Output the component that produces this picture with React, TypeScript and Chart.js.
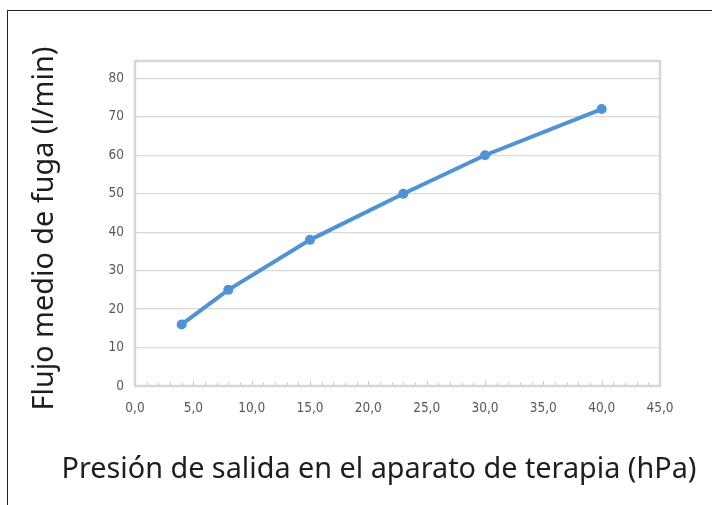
import React, { useEffect, useRef } from "react";
import { Chart, registerables } from "chart.js";

Chart.register(...registerables);

// ---- data ----
const pressureHPa = [4, 8, 15, 23, 30, 40];
const leakFlowLmin = [16, 25, 38, 50, 60, 72];
const xMajorTicks = [0, 5, 10, 15, 20, 25, 30, 35, 40, 45];
const xMinorStep = 1;
const yTicks = [0, 10, 20, 30, 40, 50, 60, 70, 80];
const xMin = 0;
const xMax = 45;
const yMin = 0;
const yMax = 84.5;
const xTitle = "Presión de salida en el aparato de terapia (hPa)";
const yTitle = "Flujo medio de fuga (l/min)";

const TICK_FONT = "'Liberation Sans Narrow', 'DejaVu Sans Condensed', sans-serif";
const TITLE_FONT = "'Noto Sans', 'Open Sans', sans-serif";
const LINE_COLOR = "#4e93d3";

const framePlugin = {
  id: "frameAndMinorTicks",
  beforeDatasetsDraw(chart: any) {
    const { ctx, chartArea: a, scales } = chart;
    const x = scales.x;
    ctx.save();
    // minor / major tick marks pointing into the plot
    ctx.strokeStyle = "#c4c4c4";
    ctx.lineWidth = 1;
    for (let v = xMin; v <= xMax + 1e-9; v += xMinorStep) {
      const px = Math.round(x.getPixelForValue(v)) + 0.5;
      const len = Math.abs(v % 5) < 1e-9 ? 5 : 3.5;
      ctx.beginPath();
      ctx.moveTo(px, a.bottom);
      ctx.lineTo(px, a.bottom - len);
      ctx.stroke();
    }
    // plot area border
    ctx.strokeStyle = "#d6d6d6";
    ctx.lineWidth = 2.5;
    ctx.strokeRect(a.left, a.top, a.right - a.left, a.bottom - a.top);
    ctx.restore();
  },
};

const titlesPlugin = {
  id: "axisTitles",
  afterDraw(chart: any) {
    const { ctx } = chart;
    ctx.save();
    ctx.fillStyle = "#1e1e1e";
    ctx.font = `28.8px ${TITLE_FONT}`;
    ctx.textBaseline = "alphabetic";
    ctx.textAlign = "center";
    ctx.fillText(xTitle, 379, 478);
    ctx.translate(53, 228.5);
    ctx.rotate(-Math.PI / 2);
    ctx.fillText(yTitle, 0, 0);
    ctx.restore();
  },
};

export default function App() {
  const ref = useRef<HTMLCanvasElement | null>(null);

  useEffect(() => {
    if (!ref.current) return;
    const chart = new Chart(ref.current, {
      type: "line",
      data: {
        datasets: [
          {
            data: pressureHPa.map((p, i) => ({ x: p, y: leakFlowLmin[i] })),
            borderColor: LINE_COLOR,
            backgroundColor: LINE_COLOR,
            borderWidth: 4,
            pointRadius: 5,
            pointHoverRadius: 5,
            pointBorderWidth: 0,
            tension: 0,
            fill: false,
          },
        ],
      },
      options: {
        animation: false,
        responsive: false,
        events: [],
        layout: { padding: { left: 0, top: 61, right: 52, bottom: 0 } },
        plugins: {
          legend: { display: false },
          tooltip: { enabled: false },
          title: { display: false },
        },
        scales: {
          x: {
            type: "linear",
            min: xMin,
            max: xMax,
            afterBuildTicks: (s: any) => {
              s.ticks = xMajorTicks.map((v) => ({ value: v }));
            },
            afterFit: (s: any) => {
              s.height = 505 - 386;
            },
            grid: { display: false, drawTicks: false },
            border: { display: false },
            ticks: {
              padding: 14,
              autoSkip: false,
              maxRotation: 0,
              color: "#595959",
              font: { family: TICK_FONT, size: 13.5 },
              callback: (v: any) => Number(v).toFixed(1).replace(".", ","),
            },
          },
          y: {
            type: "linear",
            min: yMin,
            max: yMax,
            afterBuildTicks: (s: any) => {
              s.ticks = yTicks.map((v) => ({ value: v }));
            },
            afterFit: (s: any) => {
              s.width = 135;
            },
            grid: { color: "#d9d9d9", lineWidth: 1.2, drawTicks: false },
            border: { display: false },
            ticks: {
              padding: 11,
              color: "#595959",
              font: { family: TICK_FONT, size: 13.5 },
              callback: (v: any) => String(v),
            },
          },
        },
      },
      plugins: [framePlugin, titlesPlugin],
    });
    return () => chart.destroy();
  }, []);

  return (
    <div
      style={{
        position: "fixed",
        left: 0,
        top: 0,
        width: 712,
        height: 505,
        background: "#ffffff",
        overflow: "hidden",
      }}
    >
      <canvas
        ref={ref}
        width={712}
        height={505}
        style={{ position: "absolute", left: 0, top: 0, width: 712, height: 505 }}
      />
      <div
        style={{
          position: "absolute",
          left: 7,
          top: 10,
          width: 800,
          height: 600,
          borderTop: "1px solid #222",
          borderLeft: "1px solid #222",
          pointerEvents: "none",
        }}
      />
    </div>
  );
}
